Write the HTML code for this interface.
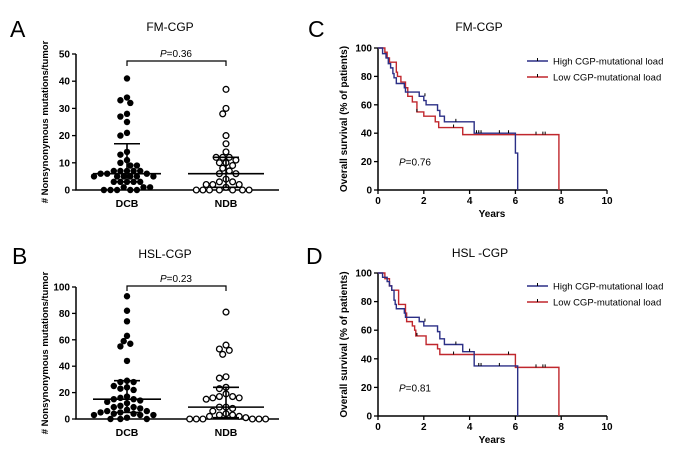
<!DOCTYPE html>
<html><head><meta charset="utf-8"><style>
body{margin:0;background:#fff}
svg{display:block;font-family:"Liberation Sans",Arial,sans-serif}
</style></head><body>
<svg id="fig" width="700" height="456" viewBox="0 0 700 456">
<rect width="700" height="456" fill="#fff"/>
</svg>
<script>
// ---- Scatter data ----
const catLabels = ["DCB","NDB"];
const aDCB = [41,34,33,32,28,27,25,21,20,14,13,11,10,9,9,7,7,7,7,7,6,6,6,5,5,5,5,5,5,3,3,3,3,3,1,0,0,0,0,1,0,1];
const aNDB = [37,30,28,20,17,14,12,12,12,11,10,10,9,8,7,6,6,4,3,3,2,2,2,1,0,0,0,0,0,0,0];
const aStats = [[6,3,17],[6,1,12]]; // median, q1, q3
const aTicks = [0,10,20,30,40,50];
const bDCB = [93,82,74,63,59,57,55,44,29,28,28,25,24,23,22,17,16,15,15,14,13,12,10,9,9,8,7,6,6,5,5,4,4,3,3,3,1,0,0,0];
const bNDB = [81,56,53,52,49,32,31,24,23,19,17,17,16,16,15,9,9,8,6,4,3,3,2,2,1,0,0,0,0,0,0];
const bStats = [[15,5,29],[9,1,24]];
const bTicks = [0,20,40,60,80,100];
// ---- KM data ----
const kmXTicks = [0,2,4,6,8,10];
const kmYTicks = [0,20,40,60,80,100];
const cHighT = [0,0.2,0.35,0.45,0.55,0.65,0.7,0.8,1.15,1.2,1.8,2.0,2.1,2.6,2.7,2.9,4.2,6.0,6.1];
const cHighS = [100,96,93,89,86,82,79,75,72,69,66,63,60,56,52,48,40,26,0];
const cLowT = [0,0.3,0.4,0.5,0.8,0.85,1.0,1.2,1.3,1.5,1.7,2.0,2.5,2.65,3.7,7.9];
const cLowS = [100,97,93,90,83,80,76,72,66,62,55,52,48,44,39,0];
const cHighCens = [[2.05,66],[3.4,48],[4.3,40],[4.4,40],[4.5,40],[5.3,40],[5.7,40]];
const cLowCens = [[1.7,55],[3.3,44],[6.9,39],[7.2,39],[7.3,39]];
const dHighT = [0,0.2,0.4,0.5,0.6,0.7,0.75,0.8,1.15,1.2,1.8,2.0,2.6,2.7,2.9,3.7,4.2,6.1];
const dHighS = [100,97,94,91,88,81,78,75,72,69,66,63,59,54,50,45,35,0];
const dLowT = [0,0.3,0.5,0.6,0.9,1.2,1.25,1.5,1.6,1.65,2.1,2.6,2.7,6.0,7.9];
const dLowS = [100,96,91,88,78,72,66,63,60,56,50,47,43,34,0];
const dHighCens = [[2.05,66],[3.4,50],[4.0,45],[4.4,35],[4.5,35],[5.3,35]];
const dLowCens = [[1.7,56],[3.3,43],[5.7,43],[6.9,34],[7.2,34],[7.3,34]];

const NS="http://www.w3.org/2000/svg";
const svg=document.getElementById('fig');
function el(tag,attrs,parent,text){const e=document.createElementNS(NS,tag);for(const k in attrs)e.setAttribute(k,attrs[k]);if(text!==undefined)e.textContent=text;(parent||svg).appendChild(e);return e;}

function text(x,y,s,size,anchor,weight,parent,name,rot){
  const t=el('text',{x:x,y:y,'font-size':size,'text-anchor':anchor||'start','font-weight':weight||'normal','fill':'#000'},parent,s);
  if(rot)t.setAttribute('transform','rotate(-90 '+x+' '+y+')');
  
  
  return t;
}

function scatterPanel(cfg){
  const g=el('g',{});
  
  
  const x0=76,x1=279,yb=cfg.y0,yt=cfg.y100,max=cfg.ticks[cfg.ticks.length-1];
  const ys=v=>yb-(v/max)*(yb-yt);
  const cx=[127,226];
  const ax=el('path',{d:`M${x0} ${yt}V${yb}H${x1}`,stroke:'#000','stroke-width':1.5,fill:'none'},g);
  
  
  cfg.ticks.forEach(t=>{
    const tk=el('line',{x1:x0-4,x2:x0,y1:ys(t),y2:ys(t),stroke:'#000','stroke-width':1.3},g);
    
    
    text(x0-6,ys(t)+3.5,t,10,'end','bold',g,'y-tick-label');
  });
  catLabels.forEach((c,i)=>{
    text(cx[i],yb+17,c,10.5,'middle','bold',g,'x-category-label');
  });
  text(48,(yb+yt)/2,'# Nonsynonymous mutations/tumor',9.5,'middle','bold',g,'y-axis-title',true);
  text(cfg.titleX,cfg.titleY,cfg.title,12,'middle','normal',g,'panel-title');
  text(cfg.letterX,cfg.letterY,cfg.letter,23,'start','normal',g,'panel-letter');
  const by=cfg.bracketY;
  const br=el('path',{d:`M${cx[0]} ${by+5}V${by}H${cx[1]}V${by+5}`,stroke:'#000','stroke-width':1.2,fill:'none'},g);
  
  
  const pt=el('text',{x:176,y:by-4,'font-size':10,'text-anchor':'middle'},g);
  
  
  el('tspan',{'font-style':'italic'},pt,'P');
  el('tspan',{},pt,'='+cfg.p);
  [cfg.dcb,cfg.ndb].forEach((arr,gi)=>{
    const placed=[];const r=3.2,step=3.3,minD=5.6;
    arr.forEach(v=>{
      const y=ys(v);let k=0,x=cx[gi];
      for(;;){
        const off=(k===0)?0:(Math.ceil(k/2)*step*(k%2?-1:1));
        x=cx[gi]+off;
        if(!placed.some(p=>Math.hypot(p[0]-x,p[1]-y)<minD))break;
        k++; if(k>60)break;
      }
      placed.push([x,y]);
      const c=el('circle',{cx:x,cy:y,r:gi?2.9:r,fill:gi?'#fff':'#000',stroke:'#000','stroke-width':gi?1.3:0},g);
      
      
    });
    const s=cfg.stats[gi];
    const w=gi?38:34;
    const ml=el('line',{x1:cx[gi]-w,x2:cx[gi]+w,y1:ys(s[0]),y2:ys(s[0]),stroke:'#000','stroke-width':1.6},g);
    
    
    const cw=13;
    const iq=el('path',{d:`M${cx[gi]-cw} ${ys(s[1])}H${cx[gi]+cw}M${cx[gi]-cw} ${ys(s[2])}H${cx[gi]+cw}M${cx[gi]} ${ys(s[1])}V${ys(s[2])}`,stroke:'#000','stroke-width':1.6,fill:'none'},g);
    
    
  });
}

function kmPanel(cfg){
  const g=el('g',{});
  
  
  const x0=378,x1=607,yb=cfg.y0,yt=cfg.y100;
  const xs=t=>x0+t/10*(x1-x0), ys=s=>yb-s/100*(yb-yt);
  const ax=el('path',{d:`M${x0} ${yt}V${yb}H${x1}`,stroke:'#000','stroke-width':1.5,fill:'none'},g);
  
  
  kmYTicks.forEach(t=>{
    const tk=el('line',{x1:x0-4,x2:x0,y1:ys(t),y2:ys(t),stroke:'#000','stroke-width':1.3},g);
    
    
    text(x0-6,ys(t)+3.5,t,10,'end','bold',g,'y-tick-label');
  });
  kmXTicks.forEach(t=>{
    const tk=el('line',{x1:xs(t),x2:xs(t),y1:yb,y2:yb+4,stroke:'#000','stroke-width':1.3},g);
    
    
    text(xs(t),yb+14,t,10,'middle','bold',g,'x-tick-label');
  });
  text(492,yb+27,'Years',10,'middle','bold',g,'x-axis-title');
  text(347,(yb+yt)/2,'Overall survival (% of patients)',10,'middle','bold',g,'y-axis-title',true);
  text(cfg.titleX,cfg.titleY,cfg.title,12,'middle','normal',g,'panel-title');
  text(cfg.letterX,cfg.letterY,cfg.letter,23,'start','normal',g,'panel-letter');
  const pt=el('text',{x:399,y:ys(20)+4,'font-size':10},g);
  
  
  el('tspan',{'font-style':'italic'},pt,'P');
  el('tspan',{},pt,'='+cfg.p);
  const series=[[cfg.lowT,cfg.lowS,cfg.lowC,'#c0272d','low-load-curve'],[cfg.highT,cfg.highS,cfg.highC,'#2b2f86','high-load-curve']];
  series.forEach(([T,S,C,col,nm])=>{
    let d=`M${xs(T[0])} ${ys(S[0])}`;
    for(let i=1;i<T.length;i++){d+=`H${xs(T[i])}V${ys(S[i])}`;}
    const p=el('path',{d:d,stroke:col,'stroke-width':1.4,fill:'none'},g);
    
    
    C.forEach(c=>{
      const m=el('line',{x1:xs(c[0]),x2:xs(c[0]),y1:ys(c[1]),y2:ys(c[1])-3,stroke:'#000','stroke-width':1},g);
      
      
    });
  });
  const legend=[['High CGP-mutational load','#2b2f86'],['Low CGP-mutational load','#c0272d']];
  legend.forEach((L,i)=>{
    const ly=cfg.legY+i*16;
    const lg=el('g',{},g);
    
    
    el('line',{x1:527,x2:548,y1:ly,y2:ly,stroke:L[1],'stroke-width':1.5},lg);
    el('line',{x1:537.5,x2:537.5,y1:ly,y2:ly-3,stroke:'#000','stroke-width':1},lg);
    el('text',{x:553,y:ly+3.5,'font-size':9.5},lg,L[0]);
  });
}

scatterPanel({name:'panel-a',y0:190,y100:54,ticks:aTicks,dcb:aDCB,ndb:aNDB,stats:aStats,title:'FM-CGP',titleX:170,titleY:31,letter:'A',letterX:10,letterY:37,bracketY:61,p:'0.36'});
scatterPanel({name:'panel-b',y0:419,y100:287,ticks:bTicks,dcb:bDCB,ndb:bNDB,stats:bStats,title:'HSL-CGP',titleX:165,titleY:258,letter:'B',letterX:12,letterY:264,bracketY:286,p:'0.23'});
kmPanel({name:'panel-c',y0:190,y100:48,title:'FM-CGP',titleX:479,titleY:31,letter:'C',letterX:308,letterY:37,highT:cHighT,highS:cHighS,lowT:cLowT,lowS:cLowS,highC:cHighCens,lowC:cLowCens,legY:61,p:'0.76'});
kmPanel({name:'panel-d',y0:416,y100:273,title:'HSL -CGP',titleX:480,titleY:257,letter:'D',letterX:306,letterY:264,highT:dHighT,highS:dHighS,lowT:dLowT,lowS:dLowS,highC:dHighCens,lowC:dLowCens,legY:286,p:'0.81'});
</script>
</body></html>
